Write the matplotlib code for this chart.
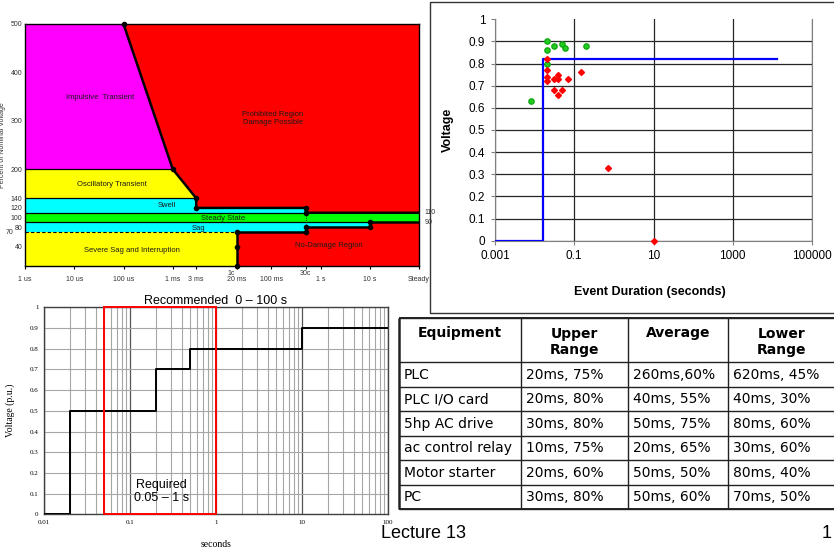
import numpy as np
import matplotlib.pyplot as plt
from matplotlib.patches import Rectangle
from matplotlib.ticker import NullLocator, NullFormatter
from matplotlib.transforms import blended_transform_factory

plt.rcParams['font.family'] = 'Liberation Sans'

# ---- tolerance curve (top left) ----
itic_ticks = [1e-6, 1e-5, 1e-4, 1e-3, 3e-3, 0.02, 0.1, 0.5, 1, 10, 100]
itic_tick_labels = ['1 us', '10 us', '100 us', '1 ms', '3 ms', '20 ms', '100 ms', '', '1 s', '10 s', 'Steady']
itic_yticks = [40, 80, 100, 120, 140, 200, 300, 400, 500]

upper_t = [1e-4, 1e-3, 3e-3, 3e-3, 0.5, 0.5, 100]
upper_v = [500, 200, 140, 120, 120, 110, 110]
lower_t = [0.02, 0.02, 0.02, 0.5, 0.5, 10, 10, 100]
lower_v = [0, 40, 70, 70, 80, 80, 90, 90]

impulsive_t = [1e-6, 1e-6, 1e-4, 1e-3]
impulsive_v = [200, 500, 500, 200]
oscillatory_t = [1e-6, 1e-6, 1e-3, 3e-3]
oscillatory_v = [140, 200, 200, 140]
swell_t = [1e-6, 1e-6, 3e-3, 3e-3, 0.5, 0.5]
swell_v = [110, 140, 140, 120, 120, 110]
steady_t = [1e-6, 1e-6, 100, 100]
steady_v = [90, 110, 110, 90]
sag_t = [1e-6, 1e-6, 10, 10, 0.5, 0.5]
sag_v = [70, 90, 90, 80, 80, 70]
severe_t = [1e-6, 1e-6, 0.02, 0.02]
severe_v = [0, 70, 70, 0]

region_labels = [
    (3.3e-5, 349, 'Impulsive  Transient'),
    (5.8e-5, 169, 'Oscillatory Transient'),
    (7.6e-4, 124, 'Swell'),
    (0.0107, 99, 'Steady State'),
    (3.4e-3, 78, 'Sag'),
    (1.5e-4, 33, 'Severe Sag and Interruption'),
    (0.107, 304, 'Prohibited Region\nDamage Possible'),
    (1.5, 43, 'No-Damage Region'),
]

# ---- measured events (top right) ----
green_t = [0.02, 0.02, 0.03, 0.05, 0.06, 0.2, 0.02, 0.008]
green_v = [0.90, 0.86, 0.88, 0.89, 0.87, 0.88, 0.80, 0.63]
red_t = [0.02, 0.02, 0.02, 0.02, 0.03, 0.03, 0.04, 0.04, 0.04, 0.05, 0.07, 0.15, 0.7, 10]
red_v = [0.82, 0.77, 0.74, 0.72, 0.73, 0.68, 0.75, 0.73, 0.66, 0.68, 0.73, 0.76, 0.33, 0.0]
limit_t = [0.001, 0.0167, 0.0167, 13000]
limit_v = [0, 0, 0.82, 0.82]
ev_xticks = [1e-3, 1e-1, 10, 1e3, 1e5]
ev_xlabels = ['0.001', '0.1', '10', '1000', '100000']

# ---- ride-through curve (bottom left) ----
step_t = [0.01, 0.02, 0.2, 0.5, 10, 100]
step_v = [0, 0.5, 0.7, 0.8, 0.9, 0.9]
required_lo, required_hi = 0.05, 1.0
rt_xticks = [0.01, 0.1, 1, 10, 100]
rt_xlabels = ['0.01', '0.1', '1', '10', '100']
volt_ticks = [0, 0.1, 0.2, 0.3, 0.4, 0.5, 0.6, 0.7, 0.8, 0.9, 1]
volt_labels = ['0', '0.1', '0.2', '0.3', '0.4', '0.5', '0.6', '0.7', '0.8', '0.9', '1']

# ---- equipment table ----
headers = ['Equipment', 'Upper\nRange', 'Average', 'Lower\nRange']
equipment = ['PLC', 'PLC I/O card', '5hp AC drive', 'ac control relay', 'Motor starter', 'PC']
upper_range = ['20ms, 75%', '20ms, 80%', '30ms, 80%', '10ms, 75%', '20ms, 60%', '30ms, 80%']
average = ['260ms,60%', '40ms, 55%', '50ms, 75%', '20ms, 65%', '50ms, 50%', '50ms, 60%']
lower_range = ['620ms, 45%', '40ms, 30%', '80ms, 60%', '30ms, 60%', '80ms, 40%', '70ms, 50%']

W, H = 834, 549
fig = plt.figure(figsize=(W / 100, H / 100), dpi=100)


def box(x0, y0, x1, y1):
    return [x0 / W, 1 - y1 / H, (x1 - x0) / W, (y1 - y0) / H]


# page overlay: table, footer, frame around the event plot
ov = fig.add_axes([0, 0, 1, 1])
ov.set_xlim(0, W)
ov.set_ylim(H, 0)
ov.axis('off')
ov.add_patch(Rectangle((430, 2), 420, 311, fill=False, ec='#333333', lw=1))

col_x = [399, 521, 628, 728, 836]
row_y = [318.3] + list(np.linspace(362.3, 509.3, 7))
ov.hlines(row_y, col_x[0], col_x[-1], color='#222222', lw=1)
ov.hlines([row_y[0], row_y[-1]], col_x[0], col_x[-1], color='#222222', lw=1.4)
ov.vlines(col_x[1:-1], row_y[0], row_y[-1], color='#222222', lw=1)
ov.vlines(col_x[0], row_y[0], row_y[-1], color='#222222', lw=1.8)
for i, h in enumerate(headers):
    ov.text((col_x[i] + col_x[i + 1]) / 2, 333 if '\n' not in h else 342, h,
            family='DejaVu Sans', fontweight='bold', fontsize=10,
            ha='center', va='center', linespacing=1.1)
for j, row in enumerate(zip(equipment, upper_range, average, lower_range)):
    yc = (row_y[j + 1] + row_y[j + 2]) / 2
    for i, cell in enumerate(row):
        ov.text(col_x[i] + 5, yc, cell, family='DejaVu Sans', fontsize=10,
                ha='left', va='center')
ov.text(381, 533, 'Lecture 13', fontsize=13, ha='left', va='center')
ov.text(822, 533, '1', fontsize=13, ha='left', va='center')

# ---- top left ----
ax1 = fig.add_axes(box(25, 24, 419, 266))
ax1.set_facecolor('#ff0000')
ax1.set_xscale('log')
ax1.set_xlim(1e-6, 100)
ax1.set_ylim(0, 500)
for t, v, c in [(impulsive_t, impulsive_v, '#ff00ff'),
                (oscillatory_t, oscillatory_v, '#ffff00'),
                (swell_t, swell_v, '#00ffff'),
                (steady_t, steady_v, '#00ff00'),
                (sag_t, sag_v, '#00ffff'),
                (severe_t, severe_v, '#ffff00')]:
    ax1.fill(t, v, color=c, lw=0)
ax1.plot([1e-6, 1e-3], [200, 200], color='black', lw=0.9)
ax1.plot([1e-6, 3e-3], [140, 140], color='black', lw=0.9)
ax1.plot([1e-6, 0.5], [110, 110], color='black', lw=0.9)
ax1.plot([1e-6, 10], [90, 90], color='black', lw=0.9)
ax1.plot([1e-6, 0.02], [70, 70], color='black', lw=0.8, ls=(0, (3, 2)))
ax1.plot([0.5, 0.5], [110, 80], color='black', lw=0.6, ls=':')
ax1.plot(upper_t, upper_v, color='black', lw=1.8)
ax1.plot(lower_t, lower_v, color='black', lw=1.8)
ax1.plot(upper_t[:-1], upper_v[:-1], 'o', color='black', ms=3, clip_on=False)
ax1.plot(lower_t[:-1], lower_v[:-1], 'o', color='black', ms=3, clip_on=False)
for t, v, s in region_labels:
    ax1.text(t, v, s, fontsize=5.5, color='#1a1a1a', ha='center', va='center')
ax1.set_xticks(itic_ticks)
ax1.set_xticklabels(itic_tick_labels)
ax1.xaxis.set_minor_locator(NullLocator())
ax1.set_yticks(itic_yticks)
ax1.set_yticklabels([str(v) for v in itic_yticks])
ax1.tick_params(axis='x', labelsize=5, length=2.5, width=0.8, pad=5, labelcolor='#333333')
ax1.tick_params(axis='y', labelsize=5, length=0, pad=2, labelcolor='#333333')
for sp in ax1.spines.values():
    sp.set_linewidth(1)
trans1 = blended_transform_factory(ax1.transData, ax1.transAxes)
ax1.text(0.0152, -0.03, '1c', fontsize=5, color='#333333', ha='center', va='center', transform=trans1)
ax1.text(0.5, -0.03, '30c', fontsize=5, color='#333333', ha='center', va='center', transform=trans1)
trans1y = blended_transform_factory(ax1.transAxes, ax1.transData)
ax1.text(-0.04, 70, '70', fontsize=5, color='#333333', ha='center', va='center', transform=trans1y)
ax1.text(1.015, 110, '110', fontsize=5, color='#333333', ha='left', va='center', transform=trans1y)
ax1.text(1.015, 90, '90', fontsize=5, color='#333333', ha='left', va='center', transform=trans1y)
ax1.set_ylabel('Percent of Nominal Voltage', fontsize=5, color='#333333')
ax1.yaxis.set_label_coords(-0.048, 0.5)

# ---- top right ----
ax2 = fig.add_axes(box(495, 19.3, 812, 240.7))
ax2.set_xscale('log')
ax2.set_xlim(1e-3, 1e5)
ax2.set_ylim(0, 1)
ax2.set_xticks(ev_xticks)
ax2.set_xticklabels(ev_xlabels)
ax2.xaxis.set_minor_locator(NullLocator())
ax2.xaxis.set_minor_formatter(NullFormatter())
ax2.set_yticks(volt_ticks)
ax2.set_yticklabels(volt_labels)
ax2.grid(True, color='#262626', lw=0.9)
ax2.get_ygridlines()[-1].set_visible(False)
ax2.set_axisbelow(True)
ax2.tick_params(labelsize=8.5, length=3, pad=4, color='#808080')
ax2.spines['top'].set_visible(False)
for s in ['left', 'bottom', 'right']:
    ax2.spines[s].set_color('#808080')
ax2.plot(limit_t, limit_v, color='#0000ff', lw=1.6, zorder=3)
ax2.plot(green_t, green_v, 'o', color='#22cc22', mec='#11aa11', ms=3.8, zorder=4)
ax2.plot(red_t, red_v, 'D', color='#ff0000', ms=3, zorder=4, clip_on=False)
ax2.set_ylabel('Voltage', fontsize=9, fontweight='bold')
ax2.yaxis.set_label_coords(-0.129, 0.5)
ax2.set_xlabel('Event Duration (seconds)', fontsize=9, fontweight='bold')
ax2.xaxis.set_label_coords(0.49, -0.205)

# ---- bottom left ----
ax3 = fig.add_axes(box(44, 307.3, 388, 514.3))
ax3.set_xscale('log')
ax3.set_xlim(0.01, 100)
ax3.set_ylim(0, 1)
ax3.set_xticks(rt_xticks)
ax3.set_xticklabels(rt_xlabels)
ax3.xaxis.set_minor_formatter(NullFormatter())
ax3.set_yticks(volt_ticks)
ax3.set_yticklabels(volt_labels)
ax3.grid(True, which='minor', axis='x', color='#a6a6a6', lw=0.8)
ax3.grid(True, which='major', axis='x', color='#555555', lw=0.9)
ax3.grid(True, which='major', axis='y', color='#a6a6a6', lw=0.8)
ax3.tick_params(which='both', length=0, labelsize=5, pad=4)
for lab in ax3.get_xticklabels() + ax3.get_yticklabels():
    lab.set_family('Liberation Serif')
for sp in ax3.spines.values():
    sp.set_color('#404040')
    sp.set_linewidth(1)
ax3.step(step_t, step_v, where='post', color='black', lw=1.4, zorder=3)
ax3.add_patch(Rectangle((required_lo, 0), required_hi - required_lo, 1,
                        fill=False, ec='#ff0000', lw=1.4, zorder=4, clip_on=False))
ax3.text(0.23, 0.11, 'Required\n0.05 \u2013 1 s', fontsize=9, ha='center', va='center',
         linespacing=1.15, zorder=5)
ax3.set_title('Recommended  0 \u2013 100 s', fontsize=9, pad=2)
ax3.set_ylabel('Voltage (p.u.)', family='Liberation Serif', fontsize=7)
ax3.yaxis.set_label_coords(-0.084, 0.5)
ax3.set_xlabel('seconds', family='Liberation Serif', fontsize=7)
ax3.xaxis.set_label_coords(0.5, -0.124)

fig.savefig('out.png', dpi=100)
